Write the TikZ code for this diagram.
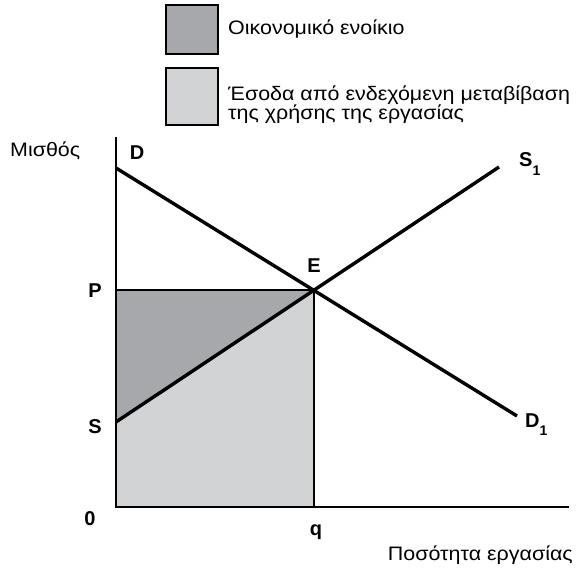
\documentclass[tikz,border=0pt]{standalone}
\usepackage{fontspec}
\setmainfont[FakeStretch=1.1]{Liberation Sans}
\newfontfamily\lblfont{Liberation Sans}
\begin{document}
\begin{tikzpicture}[x=1pt,y=-1pt,
  txt/.style={font=\fontsize{19.5}{19.5}\selectfont, inner sep=0pt},
  lbl/.style={font=\lblfont\fontsize{20}{20}\selectfont\bfseries, inner sep=0pt},
  axis/.style={line width=2.6pt, line cap=butt},
  curve/.style={line width=3.4pt, line cap=butt},
  thin/.style={line width=1.4pt},
  legbox/.style={draw, line width=1.2pt}]
\definecolor{darkg}{HTML}{A7A8AB}
\definecolor{lightg}{HTML}{D2D3D5}
\useasboundingbox (0,0) rectangle (580,569);
% key points
\coordinate (O) at (116,507);
\coordinate (Ytop) at (116,137);
\coordinate (Xend) at (569,507);
\coordinate (Dst) at (116,168);
\coordinate (E) at (314,290);
\coordinate (D1) at (517,416);
\coordinate (Sst) at (116,422);
\coordinate (S1) at (499,167);
\coordinate (P) at (116,290);
\coordinate (q) at (314,507);
% areas
\fill[lightg] (O) rectangle (E);
\fill[darkg] (Sst) -- (P) -- (E) -- cycle;
\draw[thin] (P) -- (E) -- (q);
% axes
\draw[axis] (Ytop) -- (O) -- (Xend);
% curves
\draw[curve] (Dst) -- (D1);
\draw[curve] (Sst) -- (S1);
% labels
\node[txt, anchor=base west] (wage) at (10,157) {Μισθός};
\node[lbl, anchor=base] (lD) at (137,160) {D};
\node[lbl, anchor=base] (lE) at (314,272) {E};
\node[lbl, anchor=base] (lP) at (95,297) {P};
\node[lbl, anchor=base] (lS) at (95,433) {S};
\node[lbl, anchor=base] (l0) at (90,525) {0};
\node[lbl, anchor=base] (lq) at (316,535) {q};
\node[lbl, anchor=base west] (lS1) at (519,167) {S\raisebox{-0.45em}{\fontsize{14}{14}\selectfont 1}};
\node[lbl, anchor=base west] (lD1) at (525,427) {D\raisebox{-0.42em}{\fontsize{14}{14}\selectfont 1}};
\node[txt, anchor=base east] (xlab) at (573,560) {Ποσότητα εργασίας};
% legend
\draw[legbox, fill=darkg] (166,5) rectangle (218,54);
\draw[legbox, fill=lightg] (166,68) rectangle (218,125);
\node[txt, anchor=base west] (leg1) at (228,35) {Οικονομικό ενοίκιο};
\node[txt, anchor=base west] (leg2a) at (228,101) {Έσοδα από ενδεχόμενη μεταβίβαση};
\node[txt, anchor=base west] (leg2b) at (228,120) {της χρήσης της εργασίας};
\end{tikzpicture}
\end{document}
